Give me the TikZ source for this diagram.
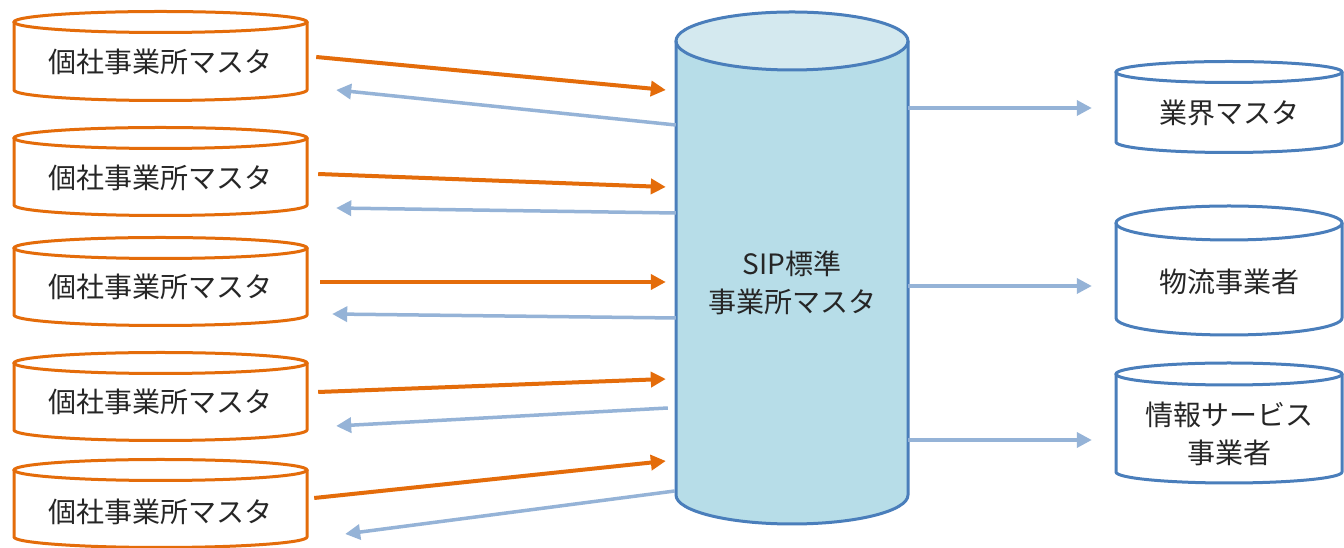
\documentclass[tikz,border=0pt]{standalone}
\usepackage{fontspec}
\setmainfont{Noto Sans CJK JP}
\usetikzlibrary{arrows.meta,calc}
\definecolor{org}{HTML}{E46C0A}
\definecolor{cline}{HTML}{4A7EBB}
\definecolor{cbody}{HTML}{B7DDE8}
\definecolor{ctop}{HTML}{D4E9EF}
\definecolor{barrow}{HTML}{95B3D7}
\definecolor{txt}{HTML}{262626}
% cx, rx, Ytop-centre, Ybottom-centre, ry, line colour, body fill, top fill
\newcommand\cylshape[8]{%
  \fill[#7] ({#1-#2},#3) -- ({#1-#2},#4) arc[start angle=180,end angle=360,x radius=#2,y radius=#5] -- ({#1+#2},#3) -- cycle;
  \fill[#8] (#1,#3) ellipse[x radius=#2,y radius=#5];
  \draw[#6,line width=3pt,line join=round] ({#1-#2},#3) -- ({#1-#2},#4) arc[start angle=180,end angle=360,x radius=#2,y radius=#5] -- ({#1+#2},#3);
  \draw[#6,line width=3pt] (#1,#3) ellipse[x radius=#2,y radius=#5];
}
\begin{document}
\begin{tikzpicture}[x=1pt,y=1pt,
  lbl/.style={inner sep=0pt,font=\fontsize{28}{38}\selectfont,text=txt,align=center},
  oarr/.style={draw=org,line width=4pt,-{Triangle[length=15pt,width=15pt]}},
  barr/.style={draw=barrow,line width=3.5pt,-{Triangle[length=15pt,width=15pt]}}]
\useasboundingbox (0,0) rectangle (1344,548);
\fill[white] (0,0) rectangle (1344,548);
% left cylinders
\cylshape{160.5}{146.5}{526}{458}{10.5}{org}{white}{white}
\cylshape{160.5}{146.5}{410}{343}{10.5}{org}{white}{white}
\cylshape{160.5}{146.5}{300}{233}{10.5}{org}{white}{white}
\cylshape{160.5}{146.5}{185}{118}{10.5}{org}{white}{white}
\cylshape{160.5}{146.5}{78}{11}{10.5}{org}{white}{white}
% centre cylinder
\cylshape{792}{116}{507}{53}{29}{cline}{cbody}{ctop}
% right cylinders
\cylshape{1229}{113}{476}{406}{10.5}{cline}{white}{white}
\cylshape{1229}{113}{325}{230}{17}{cline}{white}{white}
\cylshape{1229}{113}{174}{76}{11}{cline}{white}{white}
% labels
\node[lbl,minimum width=293pt] (L1) at (160.5,486) {個社事業所マスタ};
\node[lbl,minimum width=293pt] (L2) at (160.5,370) {個社事業所マスタ};
\node[lbl,minimum width=293pt] (L3) at (160.5,261) {個社事業所マスタ};
\node[lbl,minimum width=293pt] (L4) at (160.5,146) {個社事業所マスタ};
\node[lbl,minimum width=293pt] (L5) at (160.5,36) {個社事業所マスタ};
\node[lbl,minimum width=232pt] (C) at (792,265) {SIP標準\\事業所マスタ};
\node[lbl,minimum width=226pt] (R1) at (1229,435) {業界マスタ};
\node[lbl,minimum width=226pt] (R2) at (1229,266) {物流事業者};
\node[lbl,minimum width=226pt] (R3) at (1229,114) {情報サービス\\事業者};
% orange arrows
\draw[oarr] ($(L1.east)+(9,5)$) -- ($(C.west)+(-10,193)$);
\draw[oarr] ($(L2.east)+(11,4)$) -- ($(C.west)+(-10,96)$);
\draw[oarr] ($(L3.east)+(13,5)$) -- ($(C.west)+(-10,1)$);
\draw[oarr] ($(L4.east)+(11,10)$) -- ($(C.west)+(-10,-96)$);
\draw[oarr] ($(L5.east)+(7,14)$) -- ($(C.west)+(-10,-178)$);
% blue arrows back
\draw[barr] ($(C.west)+(0,158)$) -- ($(L1.east)+(29,-28)$);
\draw[barr] ($(C.west)+(0,70)$) -- ($(L2.east)+(29,-30)$);
\draw[barr] ($(C.west)+(0,-35)$) -- ($(L3.east)+(25,-27)$);
\draw[barr] ($(C.west)+(-8,-125)$) -- ($(L4.east)+(29,-24)$);
\draw[barr] ($(C.west)+(-1,-208)$) -- ($(L5.east)+(38,-22)$);
% right arrows
\draw[barr] ($(C.east)+(0,175)$) -- ($(R1.west)+(-24,5)$);
\draw[barr] ($(C.east)+(0,-3)$) -- ($(R2.west)+(-24,-4)$);
\draw[barr] ($(C.east)+(0,-157)$) -- ($(R3.west)+(-24,-6)$);
\end{tikzpicture}
\end{document}
